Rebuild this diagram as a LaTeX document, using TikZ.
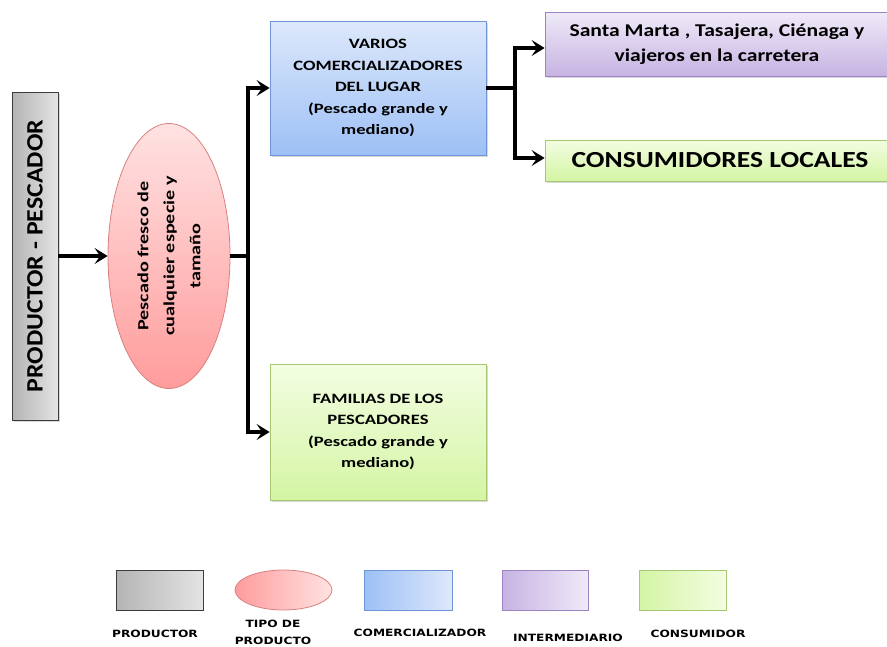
\documentclass[tikz,border=0pt]{standalone}
\usepackage{fontspec}
\setmainfont{Carlito}
\newfontfamily\legfont[FakeStretch=1.22]{DejaVu Sans}
\newfontfamily\cwA[FakeStretch=1.3]{Carlito}
\newfontfamily\cwB[FakeStretch=1.2]{Carlito}
\newfontfamily\cwC[FakeStretch=1.1]{Carlito}
\usetikzlibrary{arrows.meta,shadows,shapes.geometric}
\definecolor{grayL}{HTML}{E4E4E4}
\definecolor{grayD}{HTML}{B4B4B4}
\definecolor{grayB}{HTML}{3C3C3C}
\definecolor{pinkT}{HTML}{FFE2E2}
\definecolor{pinkB}{HTML}{FF9C9C}
\definecolor{pinkE}{HTML}{D98080}
\definecolor{blueT}{HTML}{DDE8FB}
\definecolor{blueB}{HTML}{9DC0F6}
\definecolor{blueE}{HTML}{6E95D6}
\definecolor{purT}{HTML}{F0EAF8}
\definecolor{purB}{HTML}{C6B3E2}
\definecolor{purE}{HTML}{9C84C4}
\definecolor{grnT}{HTML}{F3FDE2}
\definecolor{grnB}{HTML}{D4F5A4}
\definecolor{grnE}{HTML}{A6C873}
\tikzset{
  box/.style={rectangle, inner sep=0pt, line width=0.8pt,
    drop shadow={shadow xshift=1.5pt, shadow yshift=-1.5pt, fill=black!30}},
  prodbox/.style={box, draw=grayB, left color=grayD, right color=grayL},
  comebox/.style={box, draw=blueE, top color=blueT, bottom color=blueB},
  intbox/.style={box, draw=purE, top color=purT, bottom color=purB},
  conbox/.style={box, draw=grnE, top color=grnT, bottom color=grnB},
  tipo/.style={ellipse, inner sep=0pt, draw=pinkE, line width=0.8pt, top color=pinkT, bottom color=pinkB},
  lprod/.style={rectangle, draw=grayB, line width=0.8pt, left color=grayD, right color=grayL},
  lcome/.style={rectangle, draw=blueE, line width=0.8pt, left color=blueB, right color=blueT},
  lint/.style={rectangle, draw=purE, line width=0.8pt, left color=purB, right color=purT},
  lcon/.style={rectangle, draw=grnE, line width=0.8pt, left color=grnB, right color=grnT},
  ltipo/.style={ellipse, draw=pinkE, line width=0.8pt, left color=pinkB, right color=pinkT},
  link/.style={line width=3.4pt, black},
  arr/.style={link, -{Stealth[length=13pt,width=16pt,inset=5.5pt]}},
  txt/.style={align=center, text=black},
  leg/.style={font=\legfont\bfseries\fontsize{10}{11}\selectfont, text=black}
}
\begin{document}
\begin{tikzpicture}[x=1pt,y=-1pt]
\useasboundingbox (0,0) rectangle (887,646);
% main nodes
\node[prodbox, minimum width=46pt, minimum height=328pt] (prod) at (35,256) {};
\node[txt, rotate=90, font=\cwC\bfseries\fontsize{23.5}{26}\selectfont] (prodt) at (prod.center) {PRODUCTOR - PESCADOR};
\node[tipo, minimum width=122pt, minimum height=265pt] (tp) at (169,256) {};
\node[txt, rotate=90, font=\cwA\bfseries\fontsize{15.5}{26}\selectfont] (tpt) at (tp.center) {Pescado fresco de\\cualquier especie y\\tamaño};
\node[comebox, minimum width=216pt, minimum height=134pt, txt, font=\cwA\bfseries\fontsize{14.3}{21.5}\selectfont] (com) at (378,88)
  {VARIOS\\COMERCIALIZADORES\\DEL LUGAR\\(Pescado grande y\\mediano)};
\node[conbox, minimum width=216pt, minimum height=136pt, txt, font=\cwA\bfseries\fontsize{14.3}{21.5}\selectfont] (fam) at (378,432)
  {FAMILIAS DE LOS\\PESCADORES\\(Pescado grande y\\mediano)};
\node[intbox, minimum width=344pt, minimum height=64pt, txt, font=\cwB\bfseries\fontsize{18}{25}\selectfont] (sm) at (717,44)
  {Santa Marta , Tasajera, Ciénaga y\\viajeros en la carretera};
\node[conbox, minimum width=350pt, minimum height=41pt, txt, font=\cwB\bfseries\fontsize{23}{25}\selectfont] (cl) at (720,160.5)
  {CONSUMIDORES LOCALES};
% connectors
\coordinate (j1) at (248,256);
\coordinate (j2) at (515,88);
\draw[arr] (prod.east) -- (tp.west);
\draw[link] (tp.east) -- (j1);
\draw[arr] (j1) |- (com.west);
\draw[arr] (j1) |- (fam.west);
\draw[link] (com.east) -- (j2);
\draw[arr] (j2) |- ([yshift=-4pt]sm.west);
\draw[arr] (j2) |- ([yshift=2.5pt]cl.west);
% legend
\node[lprod, minimum width=87pt, minimum height=40pt] (lg1) at (159.5,590) {};
\node[ltipo, minimum width=97pt, minimum height=40pt] (lg2) at (283.5,590) {};
\node[lcome, minimum width=88pt, minimum height=40pt] (lg3) at (408,590) {};
\node[lint, minimum width=86pt, minimum height=40pt] (lg4) at (545,590) {};
\node[lcon, minimum width=87pt, minimum height=40pt] (lg5) at (682.5,590) {};
\node[leg] (lt1) at (155,634) {PRODUCTOR};
\node[leg, align=center, font=\legfont\bfseries\fontsize{10}{17}\selectfont] (lt2) at (273,632.5) {TIPO DE\\PRODUCTO};
\node[leg] (lt3) at (420,633) {COMERCIALIZADOR};
\node[leg] (lt4) at (568,638) {INTERMEDIARIO};
\node[leg] (lt5) at (698,634) {CONSUMIDOR};
\end{tikzpicture}
\end{document}
